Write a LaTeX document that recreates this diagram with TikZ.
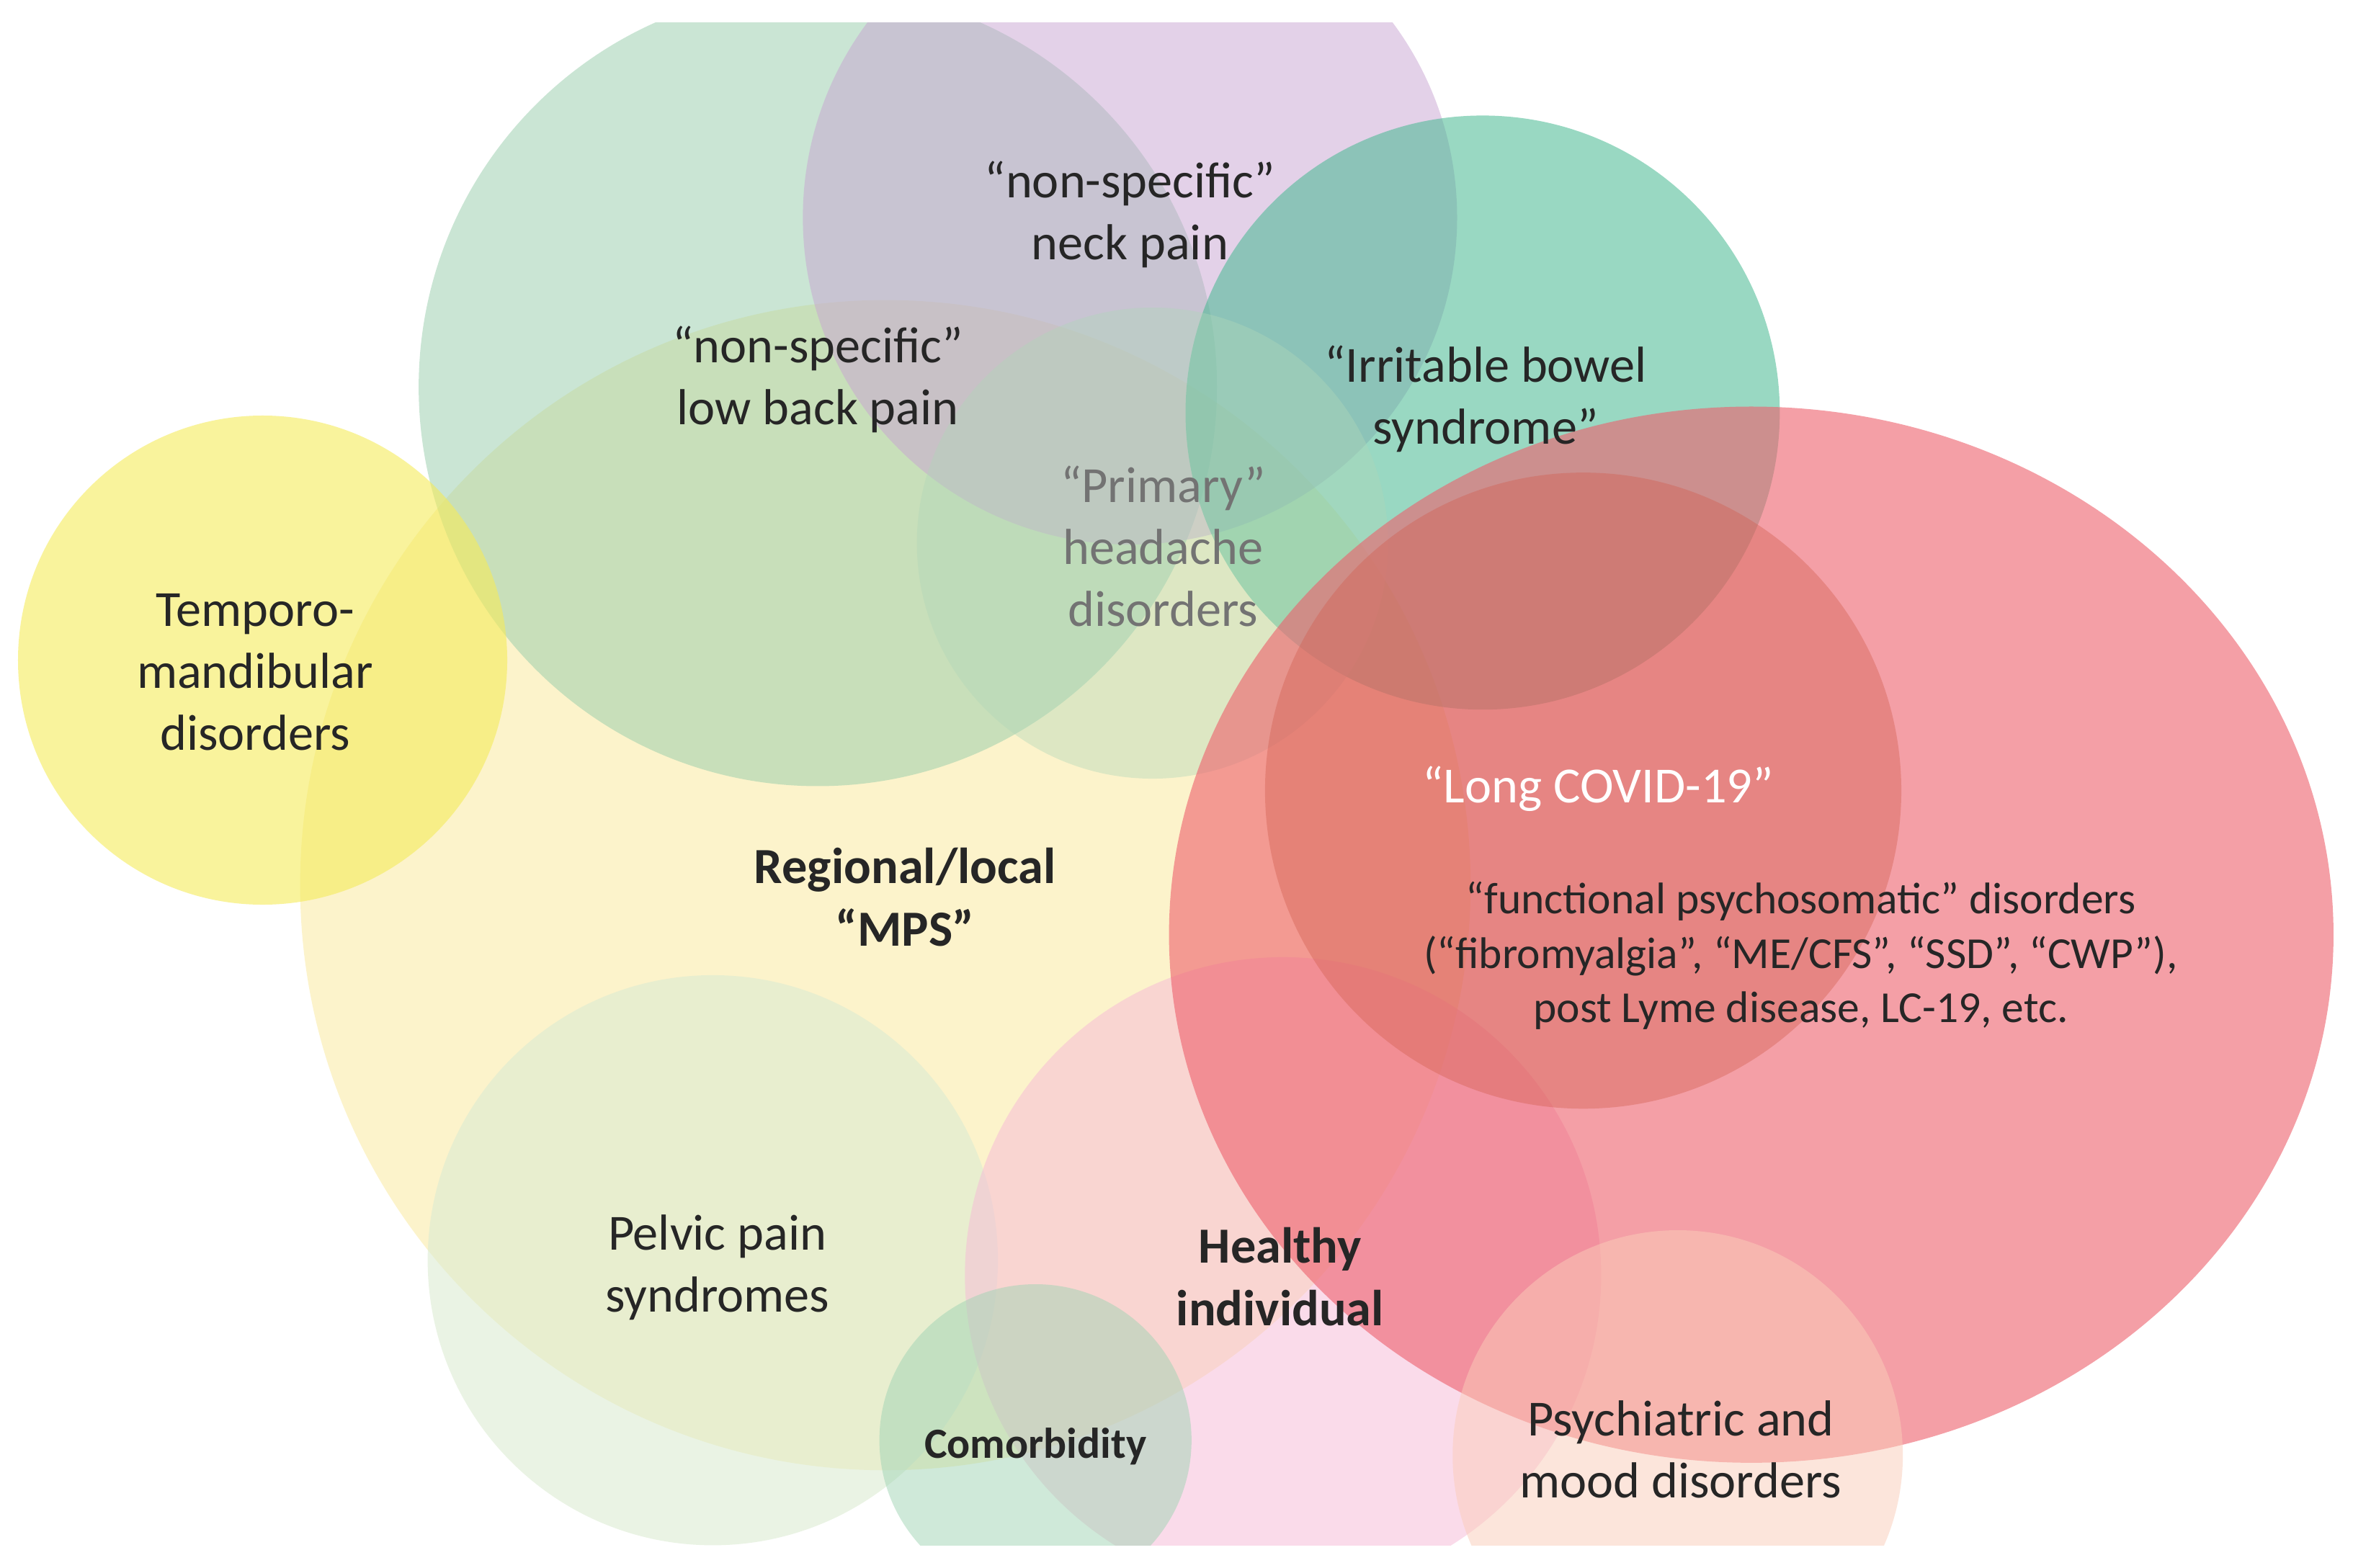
\documentclass[tikz,border=0pt]{standalone}
\usepackage{fontspec}
\setmainfont{Carlito}
\definecolor{cGreen}{RGB}{150,205,170}
\definecolor{cPurple}{RGB}{200,165,210}
\definecolor{cTeal}{RGB}{70,185,145}
\definecolor{cHead}{RGB}{175,215,185}
\definecolor{cTmd}{RGB}{245,235,90}
\definecolor{cYel}{RGB}{252,242,195}
\definecolor{cPel}{RGB}{220,236,210}
\definecolor{cPink}{RGB}{247,185,215}
\definecolor{cRed}{RGB}{238,95,108}
\definecolor{cInner}{RGB}{210,95,80}
\definecolor{cPsy}{RGB}{250,205,185}
\definecolor{cCom}{RGB}{160,212,180}
\begin{document}
\begin{tikzpicture}[x=0.02083cm,y=-0.02083cm,
  circ/.style={fill opacity=0.5,draw=none},
  lab/.style={align=center,font=\fontsize{20}{24.5}\selectfont,text=black!85},
  slab/.style={align=center,font=\fontsize{17.5}{21.5}\selectfont,text=black!85}]
\useasboundingbox (0,0) rectangle (1568,1045);
\fill[white] (0,0) rectangle (1568,1045);
\begin{scope}
\clip (0,15) rectangle (1568,1030);
\fill[circ,fill=cYel,fill opacity=0.85] (590,590) circle (390);
\fill[circ,fill=cPel,fill opacity=0.6] (475,840) circle (190);
\fill[circ,fill=cGreen] (545,258) circle (266);
\fill[circ,fill=cPurple] (753,145) circle (218);
\fill[circ,fill=cTeal,fill opacity=0.55] (988,275) circle (198);
\fill[circ,fill=cHead,fill opacity=0.4] (768,362) circle (157);
\fill[circ,fill=cTmd,fill opacity=0.6] (175,440) circle (163);
\fill[circ,fill=cPink] (855,850) circle (212);
\fill[circ,fill=cRed,fill opacity=0.6] (1167,623) ellipse [x radius=388,y radius=352];
\fill[circ,fill=cInner,fill opacity=0.4] (1055,527) circle (212);
\fill[circ,fill=cPsy] (1118,970) circle (150);
\fill[circ,fill=cCom] (690,960) circle (104);
\end{scope}
\node[lab] (neck) at (753,143) {“non-specific”\\neck pain};
\node[lab] (lbp) at (545,253) {“non-specific”\\low back pain};
\node[lab] (ibs) at (990,266) {“Irritable bowel\\syndrome”};
\node[lab,text=black!55] (head) at (775,364) {“Primary”\\headache\\disorders};
\node[lab] (tmd) at (170,448) {Temporo-\\mandibular\\disorders};
\node[lab,text=white] (lc) at (1065,526) {“Long COVID-19”};
\node[lab,font=\bfseries\fontsize{20}{24.5}\selectfont] (mps) at (603,598) {Regional/local\\“MPS”};
\node[slab] (fps) at (1200,637) {“functional psychosomatic” disorders\\(“fibromyalgia”, “ME/CFS”, “SSD”, “CWP”),\\post Lyme disease, LC-19, etc.};
\node[lab] (pel) at (478,845) {Pelvic pain\\syndromes};
\node[lab,font=\bfseries\fontsize{20}{24.5}\selectfont] (hi) at (853,851) {Healthy\\individual};
\node[lab,font=\bfseries\fontsize{17}{21}\selectfont] (com) at (690,964) {Comorbidity};
\node[lab] (psy) at (1120,966) {Psychiatric and\\mood disorders};
\end{tikzpicture}
\end{document}
